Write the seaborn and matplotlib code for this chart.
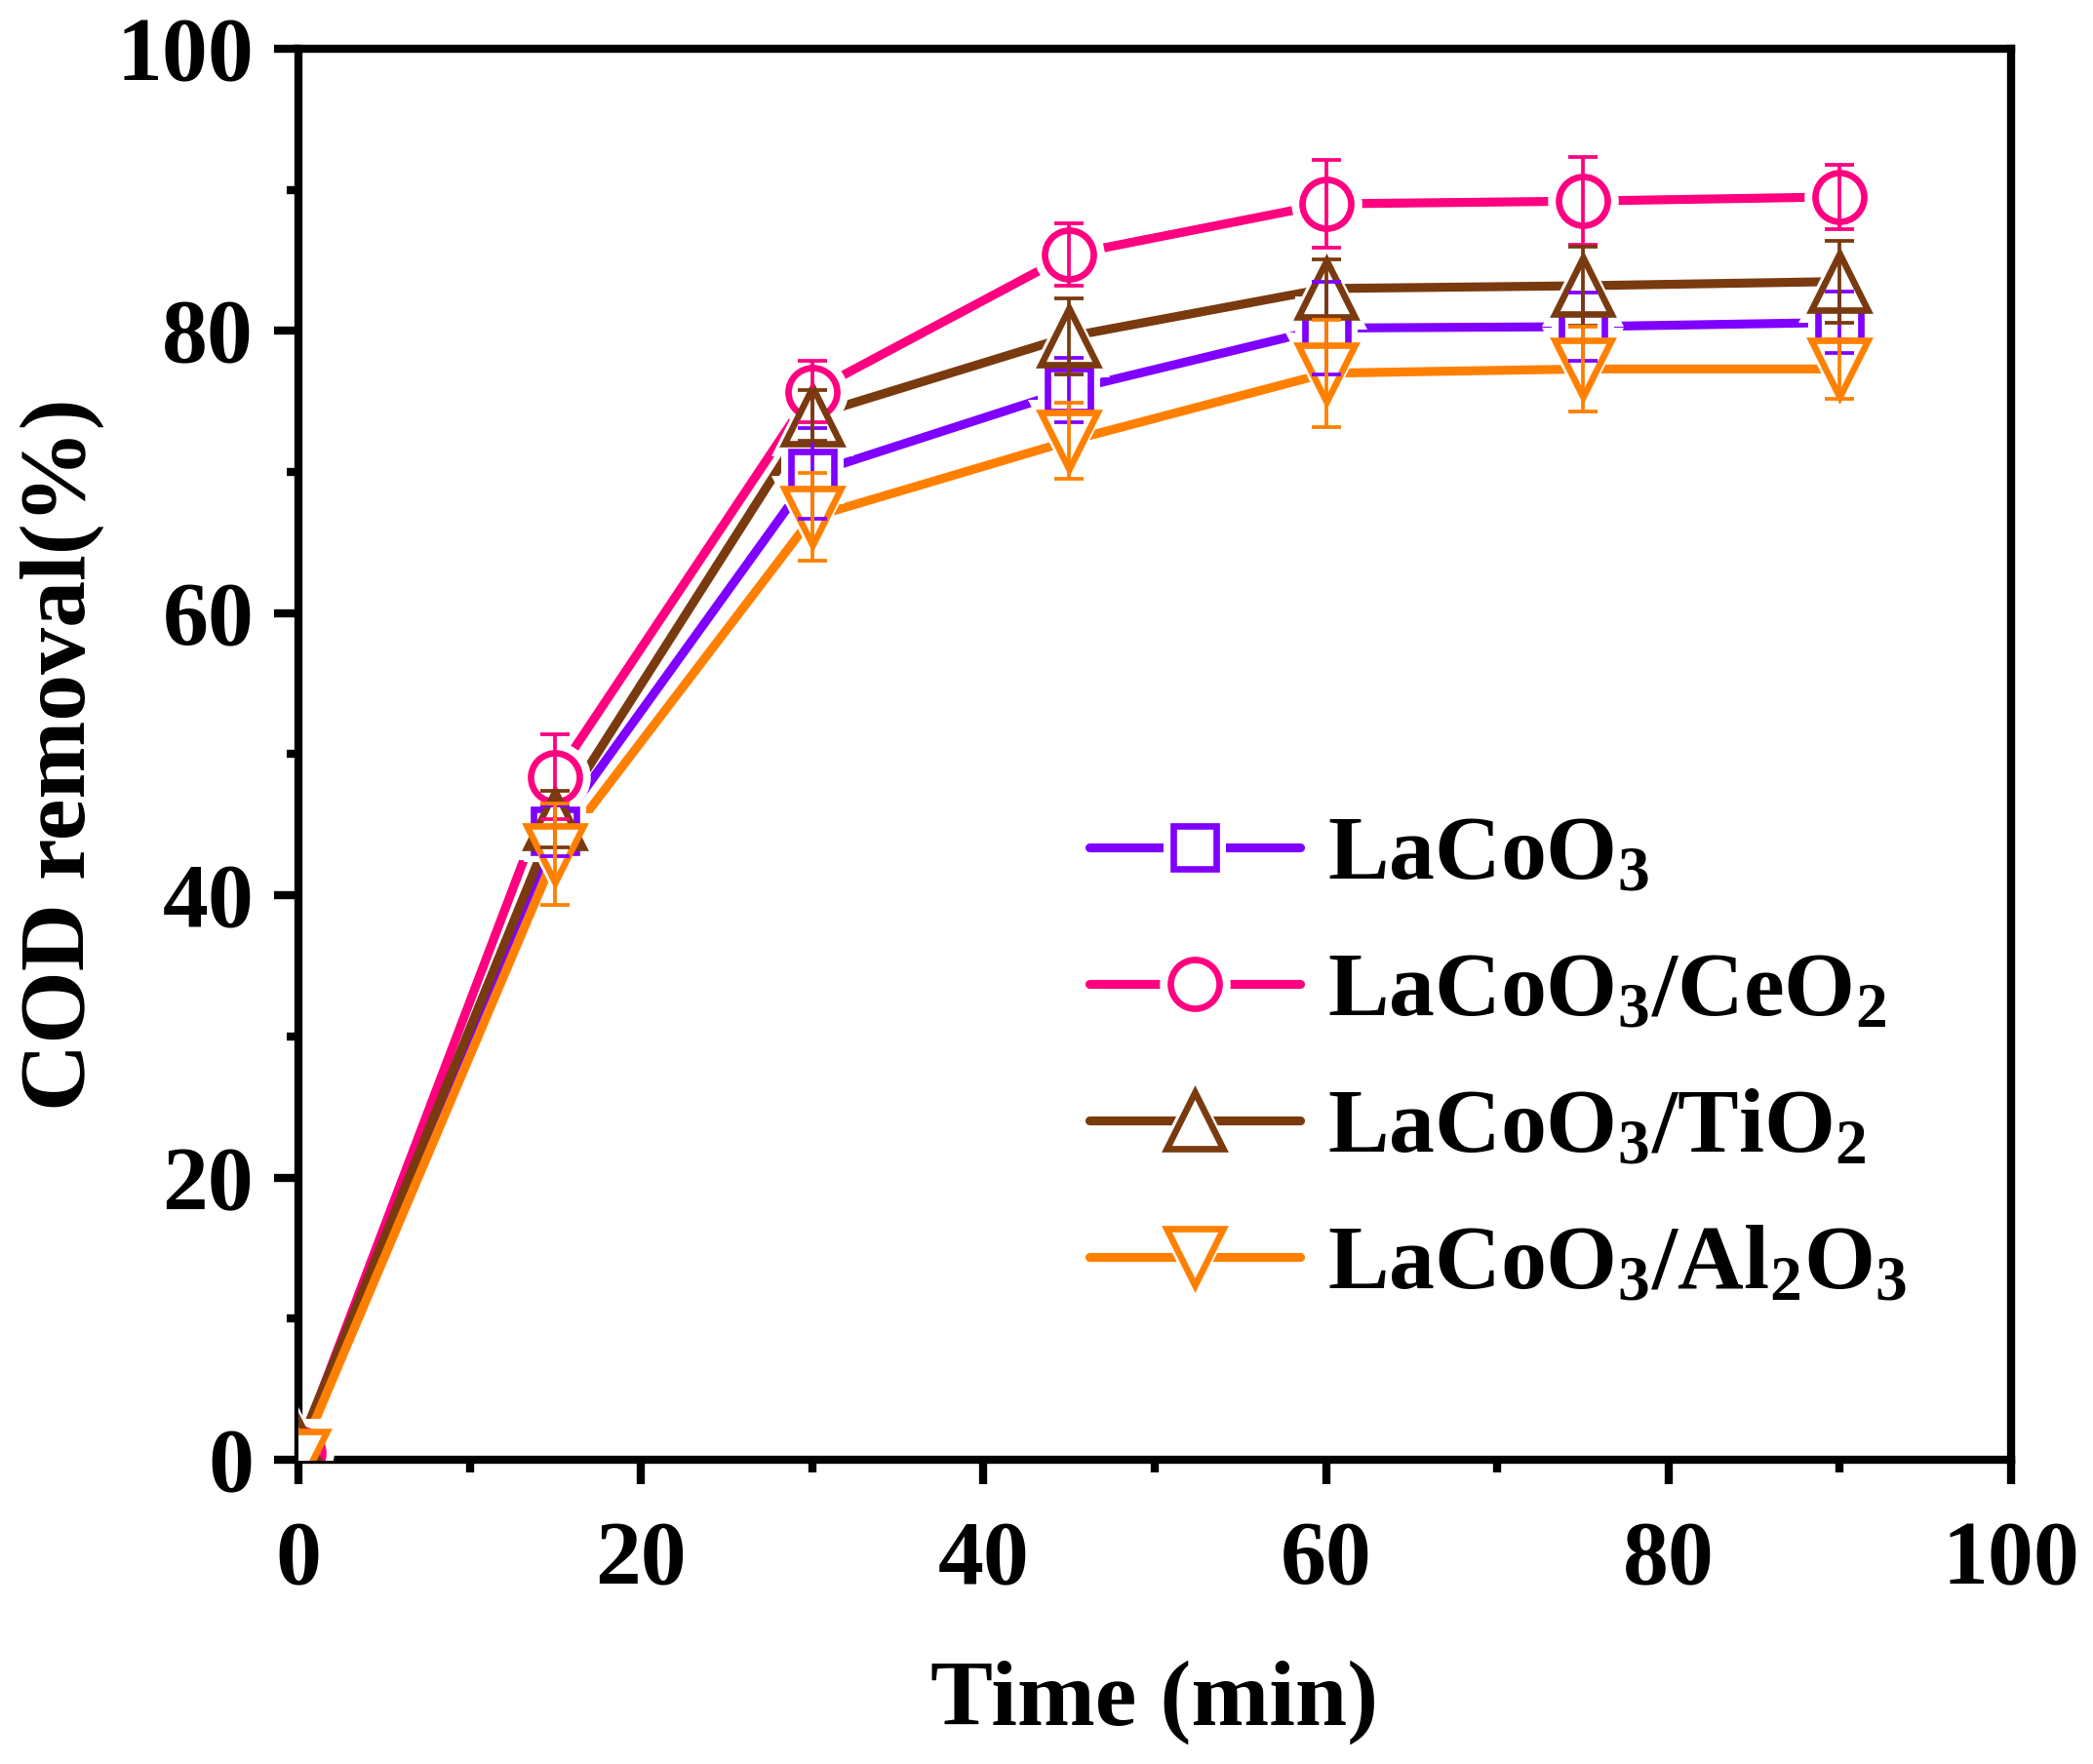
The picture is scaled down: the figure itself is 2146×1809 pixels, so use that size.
import numpy as np
import pandas as pd
import matplotlib
matplotlib.use('Agg')
import matplotlib.pyplot as plt
from matplotlib.lines import Line2D
from matplotlib.ticker import MultipleLocator
import seaborn as sns

sns.set_style('ticks')
plt.rcParams['font.family'] = ['Liberation Serif', 'DejaVu Serif']
plt.rcParams['font.weight'] = 'bold'
plt.rcParams['axes.labelweight'] = 'bold'
plt.rcParams['text.color'] = 'black'
plt.rcParams['axes.labelcolor'] = 'black'
plt.rcParams['axes.edgecolor'] = 'black'
plt.rcParams['xtick.color'] = 'black'
plt.rcParams['ytick.color'] = 'black'
plt.rcParams['mathtext.fontset'] = 'custom'
plt.rcParams['mathtext.rm'] = 'Liberation Serif:bold'
plt.rcParams['mathtext.it'] = 'Liberation Serif:bold'
plt.rcParams['mathtext.bf'] = 'Liberation Serif:bold'
plt.rcParams['mathtext.default'] = 'rm'

# data
time = [0, 15, 30, 45, 60, 75, 90]
lacoo3 = [0.3, 44.6, 69.9, 75.8, 80.2, 80.3, 80.6]
lacoo3_err = [0, 1.8, 3.2, 2.3, 3.3, 2.4, 2.2]
lacoo3_ceo2 = [0.5, 48.4, 75.7, 85.4, 89.0, 89.2, 89.5]
lacoo3_ceo2_err = [0, 3.0, 2.2, 2.2, 3.1, 3.1, 2.3]
lacoo3_tio2 = [0.8, 45.4, 74.0, 79.6, 83.0, 83.2, 83.5]
lacoo3_tio2_err = [0, 2.0, 1.8, 2.7, 2.1, 2.8, 2.9]
lacoo3_al2o3 = [0.0, 42.9, 66.8, 72.2, 77.0, 77.3, 77.3]
lacoo3_al2o3_err = [0, 3.6, 3.1, 2.7, 3.8, 3.0, 2.1]

labels = ['LaCoO$_3$', 'LaCoO$_3$/CeO$_2$', 'LaCoO$_3$/TiO$_2$', 'LaCoO$_3$/Al$_2$O$_3$']
colors = ['#8000FF', '#FF0080', '#7A3A0F', '#FF8000']
markers = ['s', 'o', '^', 'v']
msizes = [10.5, 12, 14, 14]

values = [lacoo3, lacoo3_ceo2, lacoo3_tio2, lacoo3_al2o3]
errors = [lacoo3_err, lacoo3_ceo2_err, lacoo3_tio2_err, lacoo3_al2o3_err]

df = pd.concat([pd.DataFrame({'time': time, 'removal': v, 'err': e, 'sample': lab})
                for v, e, lab in zip(values, errors, labels)], ignore_index=True)

fig = plt.figure(figsize=(2146 / 300, 1809 / 300), dpi=300)
ax = fig.add_axes([0.1426, 0.1725, 0.9609 - 0.1426, 0.9724 - 0.1725])

# lines through seaborn, one colour per sample
sns.lineplot(data=df, x='time', y='removal', hue='sample', hue_order=labels,
             palette=colors, lw=2.2, ax=ax, legend=False, errorbar=None, zorder=2)

handles = []
for i, (lab, c, m, ms) in enumerate(zip(labels, colors, markers, msizes)):
    sub = df[df['sample'] == lab]
    # white halo gives the gap between line and marker
    ax.plot(sub['time'], sub['removal'], ls='none', marker=m, ms=ms * 1.45,
            mfc='white', mec='white', mew=0, zorder=3)
    ax.plot(sub['time'], sub['removal'], ls='none', marker=m, ms=ms,
            mfc='white', mec=c, mew=1.6, zorder=4 + i)
    eb = sub[sub['err'] > 0]
    ax.errorbar(eb['time'], eb['removal'], yerr=eb['err'], fmt='none', ecolor=c,
                elinewidth=0.9, capsize=3.6, capthick=0.9, zorder=9 + i)
    handles.append((Line2D([], [], color=c, lw=2.2),
                    Line2D([], [], ls='none', marker=m, ms=ms * 1.45, mfc='white',
                           mec='white', mew=0),
                    Line2D([], [], ls='none', marker=m, ms=ms, mfc='white', mec=c, mew=1.6)))

ax.set_xlim(0, 100)
ax.set_ylim(0, 100)
ax.xaxis.set_major_locator(MultipleLocator(20))
ax.xaxis.set_minor_locator(MultipleLocator(10))
ax.yaxis.set_major_locator(MultipleLocator(20))
ax.yaxis.set_minor_locator(MultipleLocator(10))

for side in ['top', 'right', 'bottom', 'left']:
    ax.spines[side].set_linewidth(2)
    ax.spines[side].set_visible(True)
ax.tick_params(which='major', direction='out', length=6, width=2, labelsize=22.5)
ax.tick_params(which='minor', direction='out', length=3, width=2)
ax.tick_params(axis='x', which='major', pad=9)
ax.tick_params(axis='y', which='major', pad=5)

ax.set_xlabel('Time (min)', fontsize=23, labelpad=14)
ax.set_ylabel('COD removal(%)', fontsize=23, labelpad=3)

ax.legend(handles, labels, loc='lower left', bbox_to_anchor=(0.414, 0.049),
          frameon=False, fontsize=22.5, handlelength=2.3, labelspacing=0.58,
          handletextpad=0.3)

fig.savefig('out.png', dpi=300)
